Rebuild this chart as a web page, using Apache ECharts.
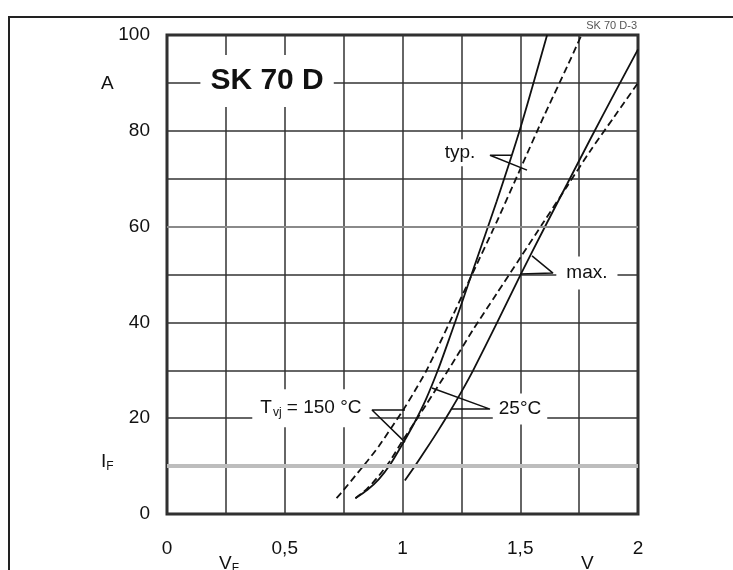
<!DOCTYPE html>
<html>
<head>
<meta charset="utf-8">
<script src="https://cdn.jsdelivr.net/npm/echarts@6/dist/echarts.min.js"></script>
<style>
html,body{margin:0;padding:0;background:#fff;}
#c{width:733px;height:570px;}
</style>
</head>
<body>
<div id="c"></div>
<script>
// Forward characteristic I_F (A) vs V_F (V)
var xTickValues = [0, 0.5, 1, 1.5, 2];
var xTickLabels = ['0', '0,5', '1', '1,5', '2'];
var yTickValues = [0, 20, 40, 60, 80, 100];
var yTickLabels = ['0', '20', '40', '60', '80', '100'];

// 25 °C typ. (solid)
var typ25 = [[0.80,3.3],[0.85,5.0],[0.90,7.3],[0.95,10.5],[1.00,14.6],[1.05,19.0],[1.10,24.0],[1.15,30.0],[1.20,36.8],[1.25,43.8],[1.30,51.0],[1.40,65.3],[1.50,80.5],[1.614,100]];
// 150 °C typ. (dashed)
var typ150 = [[0.72,3.3],[0.75,5.0],[0.80,8.0],[0.85,11.0],[0.90,14.2],[0.95,17.8],[1.00,21.5],[1.05,25.5],[1.10,29.8],[1.15,34.8],[1.20,40.0],[1.30,50.5],[1.40,61.0],[1.50,72.0],[1.60,83.0],[1.70,93.5],[1.76,100]];
// 25 °C max. (solid)
var max25 = [[1.01,7.0],[1.05,9.8],[1.10,13.5],[1.15,17.3],[1.20,21.3],[1.25,25.5],[1.30,30.0],[1.40,39.8],[1.50,49.8],[1.60,59.5],[1.70,69.0],[1.80,78.5],[1.90,87.8],[2.00,97.0]];
// 150 °C max. (dashed)
var max150 = [[0.80,3.3],[0.85,5.3],[0.90,8.0],[0.95,11.3],[1.00,15.3],[1.05,19.0],[1.10,22.8],[1.20,30.5],[1.30,38.5],[1.40,46.0],[1.50,53.5],[1.60,61.0],[1.70,68.5],[1.80,76.0],[1.90,83.0],[2.00,90.0]];

// annotation pointers (data coordinates)
var ptr150 = [[1.0106,21.7],[0.8705,21.7],[1.0106,15.0]];
var ptr25 = [[1.1253,26.3],[1.3715,21.9],[1.2102,21.9]];
var ptrTyp = [[1.465,74.9],[1.3715,74.9],[1.5287,71.8]];
var ptrMax = [[1.499,50.1],[1.639,50.3],[1.55,53.9]];

// annotation label anchors (data coordinates)
var titleAt = [0.425, 90.4];
var typAt = [1.244, 75.4];
var maxAt = [1.783, 50.3];
var t150At = [0.611, 22.1];
var t25At = [1.499, 21.9];

var FONT = 'Liberation Sans, Arial, Helvetica, sans-serif';
var INK = '#111';

function curve(name, data, dashed) {
  return {
    name: name, type: 'line', data: data, showSymbol: false, symbol: 'none',
    smooth: 0.25, z: 3, silent: true,
    lineStyle: {color: '#111', width: 1.8, type: dashed ? [7, 4] : 'solid'}
  };
}
function pointer(data) {
  return {
    type: 'line', data: data, showSymbol: false, symbol: 'none', z: 4, silent: true,
    lineStyle: {color: '#111', width: 1.5}
  };
}
function textMark(at, label) {
  return {
    type: 'scatter', data: [at], symbolSize: 2, z: 6, silent: true, clip: false,
    itemStyle: {color: '#fff'},
    labelLayout: {hideOverlap: false},
    label: Object.assign({show: true, position: [1, 1], align: 'center', verticalAlign: 'middle',
      color: INK, opacity: 1, textBorderWidth: 0, fontFamily: FONT,
      fontSize: 19, backgroundColor: '#fff'}, label)
  };
}

var chart = echarts.init(document.getElementById('c'), null, {renderer: 'canvas'});
chart.setOption({
  animation: false,
  backgroundColor: '#fff',
  grid: {left: 167, right: 95, top: 35, bottom: 56, show: true, borderColor: '#2a2a2a', borderWidth: 3, backgroundColor: 'transparent'},
  xAxis: {
    type: 'value', min: 0, max: 2, interval: 0.25,
    axisLine: {show: false}, axisTick: {show: false},
    splitLine: {show: true, lineStyle: {color: '#333', width: 1.5}},
    axisLabel: {
      margin: 25, color: INK, fontSize: 19, fontFamily: FONT,
      formatter: function (v) { var i = xTickValues.indexOf(Math.round(v * 100) / 100); return i >= 0 ? xTickLabels[i] : ''; }
    }
  },
  yAxis: {
    type: 'value', min: 0, max: 100, interval: 10,
    axisLine: {show: false}, axisTick: {show: false},
    splitLine: {show: true, lineStyle: {color: '#333', width: 1.5}},
    axisLabel: {
      margin: 17, color: INK, fontSize: 19, fontFamily: FONT,
      formatter: function (v) { var i = yTickValues.indexOf(Math.round(v)); return i >= 0 ? yTickLabels[i] : ''; }
    }
  },
  series: [
    {
      type: 'line', data: [], z: 2, silent: true,
      markLine: {
        silent: true, symbol: 'none', label: {show: false},
        data: [
          {yAxis: 10, lineStyle: {color: '#bdbdbd', width: 4, type: 'solid'}},
          {yAxis: 60, lineStyle: {color: '#8a8a8a', width: 2, type: 'solid'}}
        ]
      }
    },
    curve('25 typ', typ25, false),
    curve('150 typ', typ150, true),
    curve('25 max', max25, false),
    curve('150 max', max150, true),
    pointer(ptr150), pointer(ptr25), pointer(ptrTyp), pointer(ptrMax),
    textMark(titleAt, {formatter: 'SK 70 D', fontSize: 30, fontWeight: 'bold', lineHeight: 34, padding: [9, 10]}),
    textMark(typAt, {formatter: 'typ.', padding: [4, 6]}),
    textMark(maxAt, {formatter: 'max.', padding: [7, 10]}),
    textMark(t150At, {
      formatter: '{t|T}{s|vj}{t| = 150 °C}', padding: [8, 8],
      rich: {
        t: {fontSize: 19, fontFamily: FONT, color: INK, lineHeight: 22},
        s: {fontSize: 12, fontFamily: FONT, color: INK, lineHeight: 22, verticalAlign: 'bottom', padding: [8, 0, 0, 1]}
      }
    }),
    textMark(t25At, {formatter: '25°C', padding: [6, 6]})
  ],
  graphic: [
    {type: 'line', shape: {x1: 8, y1: 17, x2: 733, y2: 17}, style: {stroke: '#222', lineWidth: 2}, z: 10},
    {type: 'line', shape: {x1: 9, y1: 16, x2: 9, y2: 570}, style: {stroke: '#222', lineWidth: 2}, z: 10},
    {type: 'text', left: 101, top: 74, style: {text: 'A', fill: INK, font: '19px ' + FONT}},
    {type: 'text', left: 101, top: 452, style: {
      text: '{a|I}{b|F}', rich: {
        a: {fontSize: 19, fontFamily: FONT, fill: INK, lineHeight: 22},
        b: {fontSize: 12, fontFamily: FONT, fill: INK, lineHeight: 22, verticalAlign: 'bottom', padding: [8, 0, 0, 0]}
      }}},
    {type: 'text', left: 219, top: 554, style: {
      text: '{a|V}{b|F}', rich: {
        a: {fontSize: 19, fontFamily: FONT, fill: INK, lineHeight: 22},
        b: {fontSize: 12, fontFamily: FONT, fill: INK, lineHeight: 22, verticalAlign: 'bottom', padding: [8, 0, 0, 0]}
      }}},
    {type: 'text', left: 581, top: 554, style: {text: 'V', fill: INK, font: '19px ' + FONT}},
    {type: 'text', right: 96, top: 20, style: {text: 'SK 70 D-3', fill: '#555', font: '11px ' + FONT}}
  ]
});
</script>
</body>
</html>
